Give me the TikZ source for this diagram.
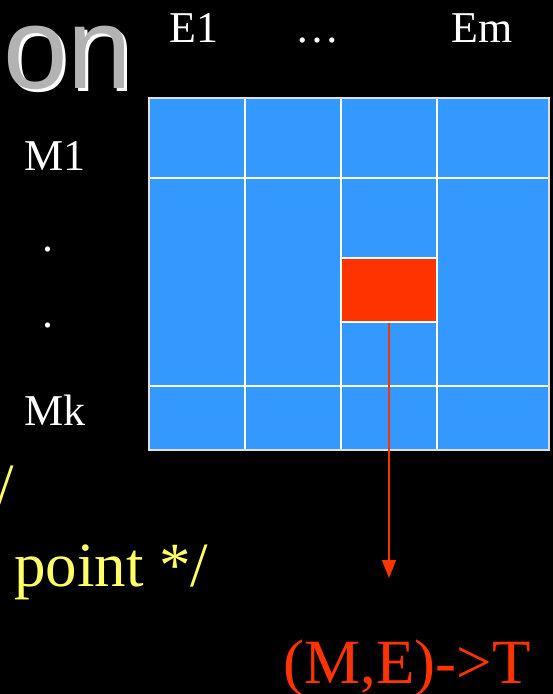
\documentclass[tikz,border=0pt]{standalone}
\usepackage{fontspec}
\setmainfont{Liberation Serif}
\newfontfamily\titlefont{Liberation Sans}
\usetikzlibrary{arrows.meta,positioning}

\definecolor{cellblue}{HTML}{3399FF}
\definecolor{hitred}{HTML}{FF3300}
\definecolor{codeyellow}{HTML}{FFFF66}
\definecolor{titlegray}{HTML}{B3B3B3}

\begin{document}
\begin{tikzpicture}[
    x=1pt, y=-1pt,
    lbl/.style={inner sep=0pt, text=white, font=\fontsize{44}{48}\selectfont},
    code/.style={inner sep=0pt, text=codeyellow, font=\fontsize{63}{70}\selectfont},
    title/.style={inner sep=0pt, anchor=base west, font=\titlefont\fontsize{116}{124}\selectfont},
    gridline/.style={draw=white, line width=2pt},
    hitcell/.style={rectangle, fill=hitred, draw=white, line width=2pt, minimum width=96pt, minimum height=64pt, inner sep=0pt},
    arrow/.style={-{Triangle[length=18pt, width=14pt]}, draw=hitred, line width=1.6pt}
]

% Background
\fill[black] (0,0) rectangle (553,694);
\useasboundingbox (0,0) rectangle (553,694);

% Title fragment
\node[title, text=white]     (shadow) at (6,91) {on};
\node[title, text=titlegray] (head)   at (3,88) {on};

% Matrix
\fill[cellblue] (149,98) rectangle (549,450);
\foreach \x in {245,341,437} \draw[gridline] (\x,98) -- (\x,450);
\foreach \y in {178,386} \draw[gridline] (149,\y) -- (549,\y);
\draw[draw=white!75!gray, line width=2pt] (149,98) rectangle (549,450);
\node[hitcell] (hit) at (389,290) {};

% Column labels
\node[lbl, anchor=base west] (e1)  at (169,42) {E1};
\node[lbl, anchor=base]      (dots) at (317,42) {…};
\node[lbl, anchor=base west] (em)  at (451,42) {Em};

% Row labels
\node[lbl, anchor=base west] (m1) at (24,170) {M1};
\node[lbl, anchor=base]      (d1) at (48,251) {.};
\node[lbl, anchor=base]      (d2) at (48,327) {.};
\node[lbl, anchor=base west] (mk) at (24,425) {Mk};

% Code fragments
\node[code, anchor=base east] (slash) at (14,507) {/};
\node[code, anchor=base west] (point) at (14,586) {point */};

% Lookup result
\coordinate (tip) at (389,578);
\draw[arrow] (hit.south) -- (tip);
\node[inner sep=0pt, anchor=base, text=hitred, font=\fontsize{63}{70}\selectfont] (result) at (407,683) {(M,E)->T};

\end{tikzpicture}
\end{document}
